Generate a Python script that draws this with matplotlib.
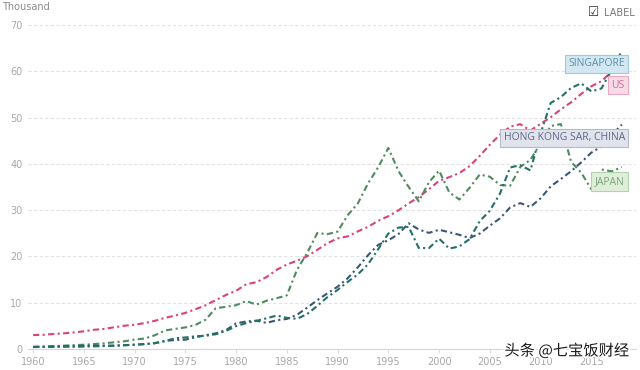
import numpy as np
import matplotlib
matplotlib.use("Agg")
import matplotlib.pyplot as plt
import matplotlib.patheffects as pe

# --------------------------
# Data: GDP per capita, thousand US$
# --------------------------
years = list(range(1960, 2019))

us = [3.01, 3.07, 3.24, 3.38, 3.57, 3.83, 4.15, 4.34, 4.70, 5.03,
      5.23, 5.61, 6.09, 6.73, 7.23, 7.80, 8.59, 9.45, 10.57, 11.67,
      12.58, 13.98, 14.43, 15.54, 17.12, 18.24, 19.07, 20.04, 21.42, 22.86,
      23.89, 24.34, 25.42, 26.39, 27.70, 28.69, 29.97, 31.46, 32.85, 34.52,
      36.34, 37.13, 38.02, 39.50, 41.71, 44.12, 46.30, 48.05, 48.57, 47.20,
      48.65, 50.07, 51.78, 53.29, 55.12, 56.76, 57.87, 59.93]

singapore = [0.43, 0.45, 0.47, 0.51, 0.49, 0.52, 0.57, 0.63, 0.71, 0.81,
             0.93, 1.07, 1.26, 1.69, 2.34, 2.49, 2.75, 2.85, 3.19, 3.90,
             4.93, 5.60, 6.08, 6.63, 7.23, 6.73, 6.52, 7.54, 9.32, 11.21,
             12.77, 14.51, 16.14, 18.30, 21.58, 24.94, 26.23, 26.38, 21.83, 21.80,
             23.85, 21.70, 22.16, 23.73, 27.61, 29.87, 33.58, 39.22, 39.72, 38.58,
             46.57, 53.17, 54.43, 56.39, 57.40, 55.65, 56.30, 60.30, 64.40]

hong_kong = [0.43, 0.45, 0.49, 0.55, 0.60, 0.68, 0.71, 0.73, 0.72, 0.83,
             0.93, 1.05, 1.26, 1.76, 1.94, 2.01, 2.53, 2.99, 3.38, 4.06,
             5.54, 5.95, 6.12, 5.64, 6.21, 6.50, 7.39, 8.93, 10.55, 12.03,
             13.46, 15.30, 17.66, 20.27, 22.50, 23.50, 24.82, 27.17, 25.81, 25.09,
             25.76, 25.23, 24.67, 23.98, 24.93, 26.65, 28.22, 30.59, 31.52, 30.70,
             32.55, 35.14, 36.73, 38.40, 40.32, 42.43, 43.74, 46.19, 48.50]

japan = [0.48, 0.56, 0.63, 0.72, 0.84, 0.92, 1.06, 1.23, 1.45, 1.67,
         2.04, 2.27, 2.97, 4.00, 4.35, 4.66, 5.20, 6.34, 8.82, 9.11,
         9.46, 10.36, 9.58, 10.43, 10.98, 11.59, 17.11, 20.75, 25.05, 24.81,
         25.36, 28.93, 31.47, 35.77, 39.27, 43.44, 38.44, 35.02, 31.90, 36.03,
         38.53, 33.85, 32.29, 34.81, 37.69, 37.22, 35.43, 35.28, 39.34, 40.86,
         44.51, 48.17, 48.60, 40.45, 38.11, 34.52, 38.79, 38.39, 39.29]

series_names = ["US", "JAPAN", "HONG KONG SAR, CHINA", "SINGAPORE"]
label_y = {"SINGAPORE": 61.6, "US": 57.0, "HONG KONG SAR, CHINA": 45.6, "JAPAN": 36.2}
x_ticks = [1960, 1965, 1970, 1975, 1980, 1985, 1990, 1995, 2000, 2005, 2010, 2015]
y_ticks = [0, 10, 20, 30, 40, 50, 60, 70]

# styles
line_colors = {"US": "#d8437a", "JAPAN": "#4f8b5c",
               "HONG KONG SAR, CHINA": "#3b5677", "SINGAPORE": "#237068"}
box_style = {
    "SINGAPORE": ("#d3e7f1", "#9fc9dd", "#5b8fae"),
    "US": ("#f9dbe6", "#eba8c0", "#d56c93"),
    "HONG KONG SAR, CHINA": ("#e1e3ec", "#b5b9ca", "#5d6788"),
    "JAPAN": ("#dfeedb", "#b2d3ad", "#79a578"),
}
data = {"US": us, "JAPAN": japan, "HONG KONG SAR, CHINA": hong_kong, "SINGAPORE": singapore}

# --------------------------
# Figure
# --------------------------
fig = plt.figure(figsize=(6.4, 3.7), dpi=100)
ax = fig.add_axes([28 / 640, 21 / 370, 608 / 640, 324 / 370])
ax.set_xlim(1959.5, 2019.4)
ax.set_ylim(0, 70)

for name in series_names:
    vals = data[name]
    ax.plot(years[:len(vals)], vals, color=line_colors[name], lw=1.5,
            linestyle=(0, (3, 1.6, 1, 1.6)), zorder=3)

ax.set_yticks(y_ticks)
ax.set_xticks(x_ticks)
ax.set_xticklabels([str(t) for t in x_ticks])
ax.grid(axis="y", color="#e2e2e2", linestyle=(0, (3, 2)), lw=0.8)
for s in ["top", "right", "left"]:
    ax.spines[s].set_visible(False)
ax.spines["bottom"].set_color("#d6d6d6")
ax.tick_params(axis="y", length=0, labelsize=7, labelcolor="#a8a8a8", pad=4)
ax.tick_params(axis="x", length=3, color="#dddddd", labelsize=7, labelcolor="#a8a8a8", pad=3)

# series labels
for name in series_names:
    face, edge, txt = box_style[name]
    ax.text(2018.3, label_y[name], name, ha="right", va="center", fontsize=7.5,
            color=txt, family="Open Sans", zorder=5,
            bbox=dict(boxstyle="square,pad=0.35", facecolor=face, edgecolor=edge, lw=0.8))

fig.text(2 / 640, 1 - 7 / 370, "Thousand", ha="left", va="center", fontsize=7, color="#8a8a8a")
fig.text(594 / 640, 1 - 12 / 370, "\u2611", ha="center", va="center", fontsize=9, color="#333333")
fig.text(604 / 640, 1 - 13 / 370, "LABEL", ha="left", va="center", fontsize=7, color="#777777")

fig.text(629 / 640, 1 - 351 / 370, "头条 @七宝饭财经", ha="right", va="center", fontsize=11,
         color="#1a1a1a", family=["Noto Sans CJK SC", "DejaVu Sans"],
         path_effects=[pe.withStroke(linewidth=2.5, foreground="white")], zorder=10)

fig.savefig("out.png", dpi=100, facecolor="white")
